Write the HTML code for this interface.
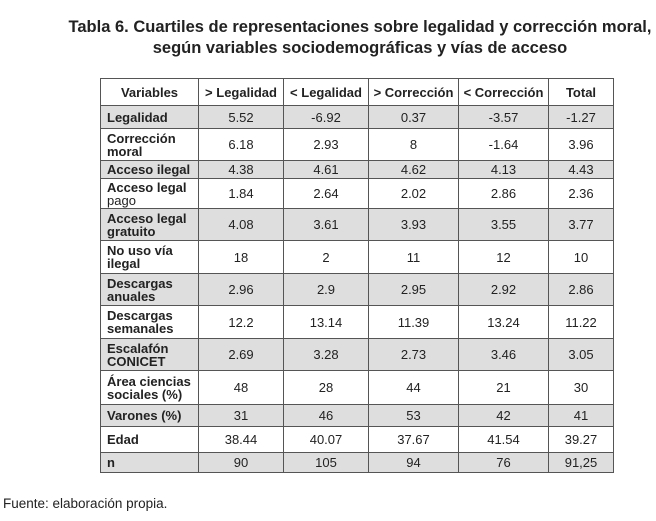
<!DOCTYPE html>
<html><head><meta charset="utf-8"><style>
html,body{margin:0;padding:0;background:#fff;width:656px;height:521px;overflow:hidden;font-family:"Liberation Sans",Arial,sans-serif;color:#222}
.title{position:absolute;left:40px;width:640px;top:17px;text-align:center;font-weight:bold;font-size:16.5px;line-height:21px;color:#222}
table{position:absolute;left:100px;top:78px;border-collapse:collapse;font-size:13px}
td,th{border:1.5px solid #555;padding:0 4px;line-height:13px}
th{font-weight:bold;text-align:center}
td{text-align:center}
td.v{text-align:left;font-weight:bold;padding-left:6px}
tr.g td{background:#dedede}
.foot{position:absolute;left:3px;top:496px;font-size:13.5px}
</style></head><body>
<div class="title">Tabla 6. Cuartiles de representaciones sobre legalidad y corrección moral,<br>según variables sociodemográficas y vías de acceso</div>
<table>
<colgroup><col style="width:98px"><col style="width:85px"><col style="width:85px"><col style="width:90px"><col style="width:90px"><col style="width:65px"></colgroup>
<tr style="height:27px"><th>Variables</th><th>&gt; Legalidad</th><th>&lt; Legalidad</th><th>&gt; Corrección</th><th>&lt; Corrección</th><th>Total</th></tr>
<tr class="g" style="height:23px"><td class="v">Legalidad</td><td>5.52</td><td>-6.92</td><td>0.37</td><td>-3.57</td><td>-1.27</td></tr>
<tr style="height:32px"><td class="v">Corrección<br>moral</td><td>6.18</td><td>2.93</td><td>8</td><td>-1.64</td><td>3.96</td></tr>
<tr class="g" style="height:18px"><td class="v">Acceso ilegal</td><td>4.38</td><td>4.61</td><td>4.62</td><td>4.13</td><td>4.43</td></tr>
<tr style="height:30px"><td class="v">Acceso legal<br><span style="font-weight:normal">pago</span></td><td>1.84</td><td>2.64</td><td>2.02</td><td>2.86</td><td>2.36</td></tr>
<tr class="g" style="height:32px"><td class="v">Acceso legal<br>gratuito</td><td>4.08</td><td>3.61</td><td>3.93</td><td>3.55</td><td>3.77</td></tr>
<tr style="height:33px"><td class="v">No uso vía<br>ilegal</td><td>18</td><td>2</td><td>11</td><td>12</td><td>10</td></tr>
<tr class="g" style="height:32px"><td class="v">Descargas<br>anuales</td><td>2.96</td><td>2.9</td><td>2.95</td><td>2.92</td><td>2.86</td></tr>
<tr style="height:33px"><td class="v">Descargas<br>semanales</td><td>12.2</td><td>13.14</td><td>11.39</td><td>13.24</td><td>11.22</td></tr>
<tr class="g" style="height:32px"><td class="v">Escalafón<br>CONICET</td><td>2.69</td><td>3.28</td><td>2.73</td><td>3.46</td><td>3.05</td></tr>
<tr style="height:34px"><td class="v">Área ciencias<br>sociales (%)</td><td>48</td><td>28</td><td>44</td><td>21</td><td>30</td></tr>
<tr class="g" style="height:22px"><td class="v">Varones (%)</td><td>31</td><td>46</td><td>53</td><td>42</td><td>41</td></tr>
<tr style="height:26px"><td class="v">Edad</td><td>38.44</td><td>40.07</td><td>37.67</td><td>41.54</td><td>39.27</td></tr>
<tr class="g" style="height:20px"><td class="v">n</td><td>90</td><td>105</td><td>94</td><td>76</td><td>91,25</td></tr>
</table>
<div class="foot">Fuente: elaboración propia.</div>
</body></html>
